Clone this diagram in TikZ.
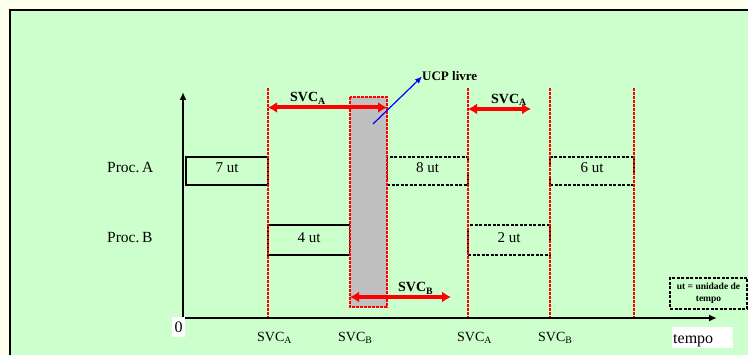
\documentclass[tikz,border=0pt]{standalone}
\usepackage{fontspec}
\setmainfont{Liberation Serif}
\usetikzlibrary{arrows.meta}
\definecolor{cream}{HTML}{FFFFEE}
\definecolor{panel}{HTML}{CCFFCC}
\definecolor{cpu}{HTML}{C0C0C0}
\tikzset{
  x=1pt, y=-1pt,
  solidbox/.style={draw=black, line width=1.8pt, minimum height=28pt, inner sep=0pt, font=\fontsize{15}{18}\selectfont},
  dashbox/.style={solidbox, dash pattern=on 3pt off 1.5pt},
  redline/.style={draw=red, line width=1.3pt, dash pattern=on 3pt off 1pt},
  svcarrow/.style={draw=red, line width=4pt, {Latex[length=9pt,width=11pt]}-{Latex[length=9pt,width=11pt]}},
  axis/.style={draw=black, line width=2pt, -{Latex[length=8pt,width=7pt]}},
  boldlbl/.style={font=\fontsize{14}{16}\selectfont\bfseries, inner sep=0pt, anchor=base west},
  plainlbl/.style={font=\fontsize{14}{16}\selectfont, inner sep=0pt, anchor=base west},
  proclbl/.style={font=\fontsize{15.5}{18}\selectfont, inner sep=0pt, anchor=base west},
}
\begin{document}
\begin{tikzpicture}
\useasboundingbox (0,0) rectangle (748,355);
\fill[cream] (0,0) rectangle (748,355);
\begin{scope}
\clip (0,0) rectangle (748,355);
\draw[fill=panel, line width=2.5pt] (10,10) rectangle (770,380);
\end{scope}

% time boxes
\node[solidbox, minimum width=82pt] (a7) at (227,171) {};
\node[dashbox, minimum width=81pt] (a8) at (427.5,171) {};
\node[dashbox, minimum width=84pt] (a6) at (592,171) {};
\node[solidbox, minimum width=82pt, minimum height=30pt] (b4) at (309,240) {};
\node[dashbox, minimum width=82pt, minimum height=30pt] (b2) at (509,240) {};
\node[font=\fontsize{15}{18}\selectfont, inner sep=0pt, anchor=base] (t7) at (227,173) {7 ut};
\node[font=\fontsize{15}{18}\selectfont, inner sep=0pt, anchor=base] (t8) at (427.5,173) {8 ut};
\node[font=\fontsize{15}{18}\selectfont, inner sep=0pt, anchor=base] (t6) at (592,173) {6 ut};
\node[font=\fontsize{15}{18}\selectfont, inner sep=0pt, anchor=base] (t4) at (309,243) {4 ut};
\node[font=\fontsize{15}{18}\selectfont, inner sep=0pt, anchor=base] (t2) at (509,243) {2 ut};

% idle CPU
\draw[fill=cpu, redline] (350,97) rectangle (387,307);
\coordinate (cpuc) at (373,124);

% red lines
\foreach \n/\x in {l1/268, l2/468, l3/550, l4/634}{
  \coordinate (\n top) at (\x,88);
  \coordinate (\n bot) at (\x,318);
  \draw[redline] (\n top) -- (\n bot);
}

% axes
\coordinate (o) at (183,318);
\coordinate (ytip) at (183,92);
\coordinate (xtip) at (717,318);
\draw[axis] (o) -- (ytip);
\draw[axis] (o) -- (xtip);

% SVC arrows
\coordinate (s1a) at (268,107.5);
\coordinate (s1b) at (387,107.5);
\coordinate (s2a) at (468,109);
\coordinate (s2b) at (531,109);
\coordinate (s3a) at (350,297);
\coordinate (s3b) at (451,297);
\draw[svcarrow] (s1a) -- (s1b);
\draw[svcarrow] (s2a) -- (s2b);
\draw[svcarrow] (s3a) -- (s3b);
\node[boldlbl] (L1) at (290,102) {SVC\textsubscript{A}};
\node[boldlbl] (L2) at (491,103.5) {SVC\textsubscript{A}};
\node[boldlbl] (L3) at (398,292) {SVC\textsubscript{B}};

% UCP livre
\node[font=\fontsize{13}{15}\selectfont\bfseries, inner sep=0pt, anchor=base west] (ucp) at (422,81) {UCP livre};
\draw[blue, line width=1.2pt, -{Latex[length=7pt,width=6pt]}] (cpuc) -- (ucp.west);

% process labels
\node[proclbl] (pa) at (107,173) {Proc.\,A};
\node[proclbl] (pb) at (107,243) {Proc.\,B};

% bottom labels
\node[plainlbl] (x1) at (257,341.5) {SVC\textsubscript{A}};
\node[plainlbl] (x2) at (338,341.5) {SVC\textsubscript{B}};
\node[plainlbl] (x3) at (457,341.5) {SVC\textsubscript{A}};
\node[plainlbl] (x4) at (538,341.5) {SVC\textsubscript{B}};

\fill[white] (172,317) rectangle (185,337);
\node[font=\fontsize{16}{18}\selectfont, inner sep=0pt, anchor=base] (zero) at (178.5,333) {0};
\fill[white] (672,327) rectangle (733,348);
\node[font=\fontsize{16}{18}\selectfont, inner sep=0pt, anchor=base west] (tempo) at (673,343.5) {tempo};

% legend
\node[draw=black, line width=1.8pt, dash pattern=on 3pt off 1.5pt, minimum width=77pt, minimum height=31pt, inner sep=0pt, align=center,
  font=\fontsize{9.5}{12}\selectfont\bfseries] (legend) at (708.5,293.5) {ut = unidade de\\tempo};
\end{tikzpicture}
\end{document}
